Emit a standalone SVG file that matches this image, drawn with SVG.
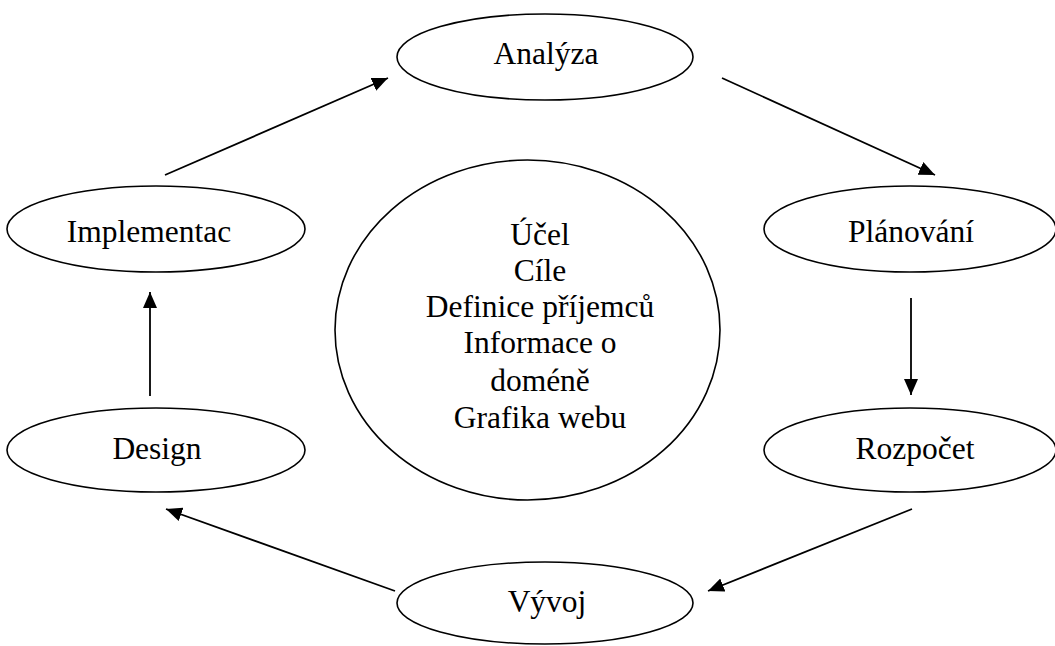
<svg xmlns="http://www.w3.org/2000/svg" width="1055" height="646" viewBox="0 0 1055 646">
<style>
.node ellipse{fill:#fff;stroke:#000;stroke-width:1.6}
.node text{font-family:"Liberation Serif","Times New Roman",serif;font-size:31.5px;fill:#000;text-anchor:middle}
.conn line{stroke:#000;stroke-width:1.8}
</style>
<defs>
<marker id="ah" markerUnits="userSpaceOnUse" markerWidth="17" markerHeight="14" refX="16" refY="7" orient="auto">
<path d="M0,0 L16,7 L0,14 z" fill="#000"/>
</marker>
</defs>
<rect width="1055" height="646" fill="#fff"/>
<g id="connectors" class="conn">
<line x1="165" y1="175" x2="388" y2="78" marker-end="url(#ah)"/>
<line x1="722" y1="78" x2="935" y2="175" marker-end="url(#ah)"/>
<line x1="911" y1="298" x2="911" y2="395" marker-end="url(#ah)"/>
<line x1="912" y1="509" x2="708" y2="591" marker-end="url(#ah)"/>
<line x1="395" y1="591" x2="166" y2="509" marker-end="url(#ah)"/>
<line x1="150" y1="396" x2="150" y2="292" marker-end="url(#ah)"/>
</g>
<g id="analyza" class="node"><ellipse cx="545" cy="57" rx="148" ry="43"/><text x="546" y="64">Analýza</text></g>
<g id="implementac" class="node"><ellipse cx="156" cy="229" rx="149" ry="43"/><text x="149" y="242">Implementac</text></g>
<g id="planovani" class="node"><ellipse cx="910" cy="229" rx="146" ry="43"/><text x="911" y="242">Plánování</text></g>
<g id="center" class="node"><ellipse cx="527.5" cy="330" rx="192.5" ry="170"/>
<text x="540" y="245">Účel</text>
<text x="540" y="281">Cíle</text>
<text x="540" y="317">Definice příjemců</text>
<text x="540" y="353">Informace o</text>
<text x="540" y="391">doméně</text>
<text x="540" y="428">Grafika webu</text>
</g>
<g id="design" class="node"><ellipse cx="156" cy="450" rx="149" ry="42"/><text x="157" y="459">Design</text></g>
<g id="rozpocet" class="node"><ellipse cx="910" cy="450" rx="146" ry="42"/><text x="915" y="459">Rozpočet</text></g>
<g id="vyvoj" class="node"><ellipse cx="545" cy="603" rx="148" ry="41"/><text x="547" y="612">Vývoj</text></g>
</svg>
